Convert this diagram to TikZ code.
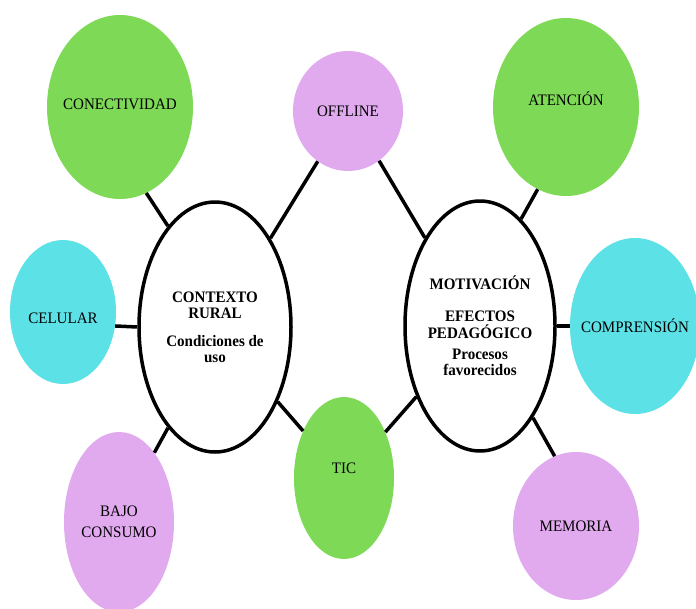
\documentclass[tikz,border=0pt]{standalone}
\usepackage{fontspec}
\setmainfont[FakeStretch=0.94]{Liberation Serif}
\usepackage{xcolor}
\usetikzlibrary{shapes,positioning,calc}

\definecolor{verde}{RGB}{126,217,87}
\definecolor{rosa}{RGB}{225,169,238}
\definecolor{celeste}{RGB}{92,225,230}

\begin{document}
\begin{tikzpicture}[x=1pt,y=-1pt,
    burbuja/.style={ellipse, inner sep=0pt, align=center, font=\fontsize{16}{16}\selectfont},
    central/.style={burbuja, draw, line width=3.5pt, fill=white, font=\fontsize{16}{16}\selectfont\bfseries},
    enlace/.style={line width=3.5pt}]
    \useasboundingbox (0,0) rectangle (696,608);

    % Central ellipses
    \node[central, minimum width=152, minimum height=250] (Contexto) at (215,327)
        {CONTEXTO\\ RURAL\\[12pt] Condiciones de\\ uso};
    \node[central, minimum width=150, minimum height=250] (Motivacion) at (480,326)
        {MOTIVACIÓN\\[16pt] EFECTOS\\[1pt] PEDAGÓGICO\\[5pt] Procesos\\[0pt] favorecidos};

    % Outer bubbles
    \node[burbuja, fill=verde, minimum width=146, minimum height=184, inner xsep=-8pt,
        text height=11pt, text depth=6pt] (Conectividad) at (120,107) {CONECTIVIDAD};
    \node[burbuja, fill=rosa, minimum width=110, minimum height=120] (Offline) at (348,111) {OFFLINE};
    \node[burbuja, fill=verde, minimum width=146, minimum height=178,
        text height=11pt, text depth=14pt] (Atencion) at (566,107) {ATENCIÓN};
    \node[burbuja, fill=celeste, minimum width=106, minimum height=144,
        text height=22pt, text depth=0pt] (Celular) at (63,312) {CELULAR};
    \node[burbuja, fill=celeste, minimum width=130, minimum height=176, inner xsep=-10pt] (Comprension) at (635,326) {COMPRENSIÓN};
    \node[burbuja, fill=rosa, minimum width=110, minimum height=180] (Bajo) at (119,522) {BAJO\\[5pt] CONSUMO};
    \node[burbuja, fill=verde, minimum width=100, minimum height=162,
        text height=11pt, text depth=20pt] (Tic) at (344,478) {TIC};
    \node[burbuja, fill=rosa, minimum width=126, minimum height=148] (Memoria) at (576,526) {MEMORIA};

    % Connections
    \draw[enlace] (Conectividad.-73) -- (Contexto.115);
    \draw[enlace] (Offline.-121) -- (Contexto.58);
    \draw[enlace] (Offline.-58) -- (Motivacion.122);
    \draw[enlace] (Atencion.-109) -- (Motivacion.69);
    \draw[enlace] (Celular.-15) -- (Contexto.west);
    \draw[enlace] (Motivacion.east) -- (Comprension.west);
    \draw[enlace] (Bajo.63) -- (Contexto.-115);
    \draw[enlace] (Contexto.-50) -- (Tic.131);
    \draw[enlace] (Tic.48) -- (Motivacion.-132);
    \draw[enlace] (Motivacion.-60) -- (Memoria.107);
\end{tikzpicture}
\end{document}
